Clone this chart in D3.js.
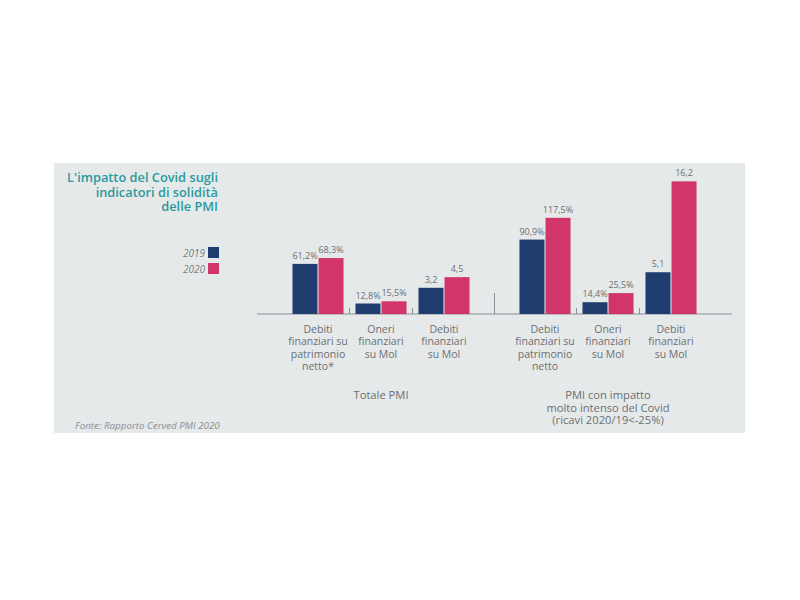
<!DOCTYPE html>
<html>
<head>
<meta charset="utf-8">
<script src="https://cdn.jsdelivr.net/npm/d3@7"></script>
<style>
  html, body { margin: 0; padding: 0; background: #ffffff; }
  svg { display: block; font-family: "Open Sans", sans-serif; }
</style>
</head>
<body>
<svg id="chart" width="800" height="600"></svg>
<script>
// ---- data ----
const groups = ["Totale PMI", "PMI con impatto intenso"];
const groupLabels = [["Totale PMI"], ["PMI con impatto", "molto intenso del Covid", "(ricavi 2020/19<-25%)"]];
const metrics = ["debPatr", "oneriMol", "debMol"];
const metricLabels = {
  "Totale PMI": [["Debiti", "finanziari su", "patrimonio", "netto*"], ["Oneri", "finanziari", "su Mol"], ["Debiti", "finanziari", "su Mol"]],
  "PMI con impatto intenso": [["Debiti", "finanziari su", "patrimonio", "netto"], ["Oneri", "finanziari", "su Mol"], ["Debiti", "finanziari", "su Mol"]]
};
const metricUnit = { debPatr: "%", oneriMol: "%", debMol: "x" };
const years = ["2019", "2020"];
const values2019 = [61.2, 12.8, 3.2, 90.9, 14.4, 5.1];
const values2020 = [68.3, 15.5, 4.5, 117.5, 25.5, 16.2];
const titleLines = ["L'impatto del Covid sugli", "indicatori di solidità", "delle PMI"];
const colors = ["#1f3d6e", "#d1356a"];

// ---- build rows ----
const rows = [];
groups.forEach((g, gi) => metrics.forEach((m, mi) => {
  const idx = gi * 3 + mi;
  rows.push({ group: g, metric: m, values: [values2019[idx], values2020[idx]] });
}));

const fmt = (v, m) => metricUnit[m] === "%" ? (v.toFixed(1).replace(".", ",") + "%") : v.toFixed(1).replace(".", ",");

const svg = d3.select("#chart");

// panel
svg.append("rect").attr("x", 54).attr("y", 163).attr("width", 691).attr("height", 270).attr("fill", "#e6e9e9");

const baseline = 314;
const x0 = d3.scaleBand().domain(groups).range([286.5, 702.5]).paddingInner(38 / 227).paddingOuter(0);
const x1 = d3.scaleBand().domain(metrics).range([0, x0.bandwidth()]).paddingInner(0.19).paddingOuter(0.095);
const x2 = d3.scaleBand().domain(years).range([0, x1.bandwidth()]).paddingInner(0.04);
const yPct = d3.scaleLinear().domain([0, 160]).range([baseline, baseline - 131]);
const yX = d3.scaleLinear().domain([0, 16]).range([baseline, baseline - 131]);
const yFor = m => metricUnit[m] === "%" ? yPct : yX;

// axis line
svg.append("line").attr("x1", 257).attr("x2", 732).attr("y1", baseline).attr("y2", baseline)
  .attr("stroke", "#8a8f94").attr("stroke-width", 1.2);

// small ticks between metrics
groups.forEach(g => {
  metrics.slice(1).forEach(m => {
    const xx = x0(g) + x1(m) - x1.step() * x1.paddingInner() / 2;
    svg.append("line").attr("x1", xx).attr("x2", xx).attr("y1", baseline - 6).attr("y2", baseline)
      .attr("stroke", "#8a8f94").attr("stroke-width", 1);
  });
});
// group separator
const sepX = (x0(groups[0]) + x0.bandwidth() + x0(groups[1])) / 2;
svg.append("line").attr("x1", sepX).attr("x2", sepX).attr("y1", baseline - 21).attr("y2", baseline)
  .attr("stroke", "#8a8f94").attr("stroke-width", 1);

// bars
const gRows = svg.append("g").selectAll("g").data(rows).join("g")
  .attr("transform", d => `translate(${x0(d.group) + x1(d.metric)},0)`);

gRows.selectAll("rect").data(d => d.values.map((v, i) => ({ v, i, m: d.metric }))).join("rect")
  .attr("x", d => x2(years[d.i]))
  .attr("width", x2.bandwidth())
  .attr("y", d => yFor(d.m)(d.v))
  .attr("height", d => baseline - yFor(d.m)(d.v))
  .attr("fill", d => colors[d.i]);

gRows.selectAll("text.val").data(d => d.values.map((v, i) => ({ v, i, m: d.metric }))).join("text")
  .attr("class", "val")
  .attr("x", d => x2(years[d.i]) + x2.bandwidth() / 2)
  .attr("y", d => yFor(d.m)(d.v) - 5)
  .attr("text-anchor", "middle")
  .attr("font-size", 9)
  .attr("fill", "#6b6f73")
  .text(d => fmt(d.v, d.m));

// metric labels (one text per line)
gRows.each(function(d) {
  const lines = metricLabels[d.group][metrics.indexOf(d.metric)];
  d3.select(this).selectAll("text.cat").data(lines).join("text")
    .attr("class", "cat")
    .attr("x", x1.bandwidth() / 2)
    .attr("y", (l, i) => baseline + 19 + i * 12.3)
    .attr("text-anchor", "middle")
    .attr("font-size", 10.5)
    .attr("fill", "#6b6f73")
    .text(l => l);
});

// group labels
groups.forEach((g, gi) => {
  svg.append("g").selectAll("text").data(groupLabels[gi]).join("text")
    .attr("x", x0(g) + x0.bandwidth() / 2)
    .attr("y", (l, i) => 399 + i * 12.5)
    .attr("text-anchor", "middle")
    .attr("font-size", 11.2)
    .attr("fill", "#6b6f73")
    .text(l => l);
});

// title
svg.append("g").selectAll("text").data(titleLines).join("text")
  .attr("x", 218).attr("y", (l, i) => 182 + i * 14.5).attr("text-anchor", "end")
  .attr("font-size", 12.8).attr("font-weight", 600).attr("fill", "#2a9a9d")
  .text(l => l);

// legend
years.forEach((yr, i) => {
  const yy = 247 + i * 16;
  svg.append("rect").attr("x", 208).attr("y", yy).attr("width", 11).attr("height", 11).attr("fill", colors[i]);
  svg.append("text").attr("x", 205).attr("y", yy + 9.5).attr("text-anchor", "end")
    .attr("font-size", 10).attr("font-style", "italic").attr("fill", "#7a7e82").text(yr);
});

// source
svg.append("text").attr("x", 75).attr("y", 429).attr("font-size", 9.8).attr("font-style", "italic")
  .attr("fill", "#8a8e92").text("Fonte: Rapporto Cerved PMI 2020");
</script>
</body>
</html>
